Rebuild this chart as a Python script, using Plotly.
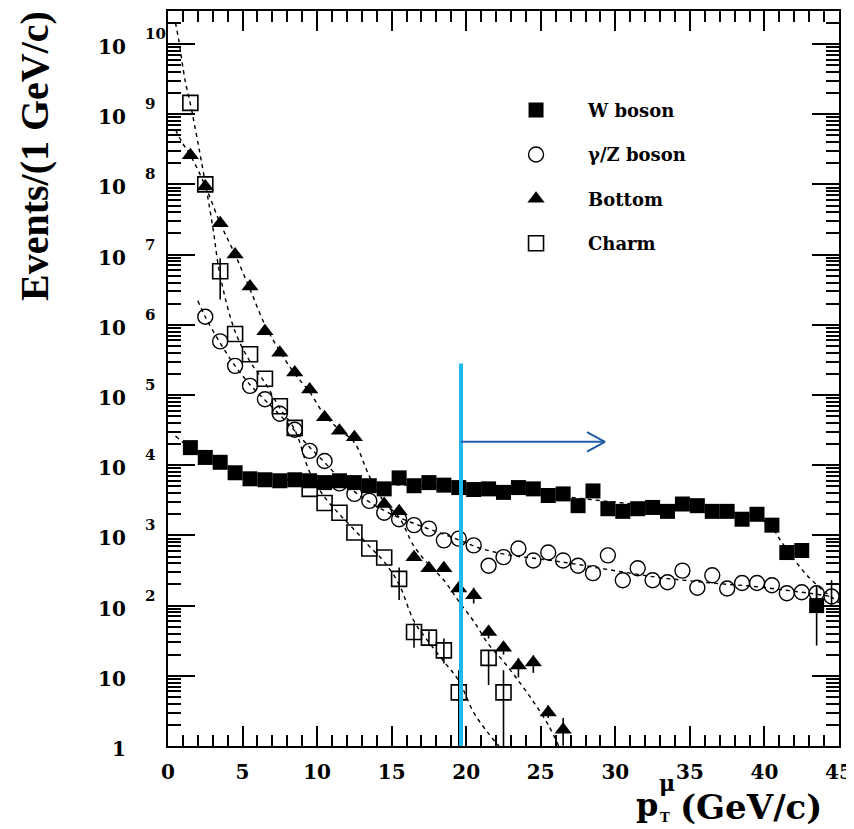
import plotly.graph_objects as go

# ---------------- data ----------------
w_x = [1.5, 2.5, 3.5, 4.5, 5.5, 6.5, 7.5, 8.5, 9.5, 10.5, 11.5, 12.5, 13.5, 14.5,
       15.5, 16.5, 17.5, 18.5, 19.5, 20.5, 21.5, 22.5, 23.5, 24.5, 25.5, 26.5, 27.5,
       28.5, 29.5, 30.5, 31.5, 32.5, 33.5, 34.5, 35.5, 36.5, 37.5, 38.5, 39.5, 40.5,
       41.5, 42.5, 43.5]
w_y = [1.78e4, 1.29e4, 1.1e4, 7.8e3, 6.4e3, 6.2e3, 6.0e3, 6.2e3, 6.0e3, 5.65e3, 6.0e3,
       5.65e3, 5.1e3, 4.6e3, 6.6e3, 5.1e3, 5.65e3, 5.2e3, 4.8e3, 4.5e3, 4.6e3, 4.1e3,
       4.8e3, 4.6e3, 3.7e3, 3.9e3, 2.65e3, 4.3e3, 2.4e3, 2.2e3, 2.4e3, 2.5e3, 2.2e3,
       2.8e3, 2.65e3, 2.2e3, 2.2e3, 1.7e3, 2.0e3, 1.4e3, 570, 610, 100]
w_err_hi = [0] * 42 + [70]
w_err_lo = [0] * 42 + [73]

gz_x = [2.5, 3.5, 4.5, 5.5, 6.5, 7.5, 8.5, 9.5, 10.5, 11.5, 12.5, 13.5, 14.5, 15.5,
        16.5, 17.5, 18.5, 19.5, 20.5, 21.5, 22.5, 23.5, 24.5, 25.5, 26.5, 27.5, 28.5,
        29.5, 30.5, 31.5, 32.5, 33.5, 34.5, 35.5, 36.5, 37.5, 38.5, 39.5, 40.5, 41.5,
        42.5, 43.5, 44.5]
gz_y = [1.3e6, 5.8e5, 2.6e5, 1.35e5, 8.7e4, 5.4e4, 3.2e4, 1.6e4, 1.15e4, 5.5e3, 3.9e3,
        3.1e3, 2.1e3, 1.7e3, 1.4e3, 1.25e3, 850, 900, 720, 370, 490, 650, 440, 570, 440,
        370, 290, 520, 230, 340, 230, 215, 315, 180, 270, 175, 210, 210, 195, 150, 155,
        150, 135]
gz_err_hi = [0] * 41 + [40, 95]
gz_err_lo = [0] * 41 + [30, 35]

b_x = [1.5, 2.5, 3.5, 4.5, 5.5, 6.5, 7.5, 8.5, 9.5, 10.5, 11.5, 12.5,
       14.5, 15.5, 16.5, 17.5, 18.5, 19.5, 20.5, 21.5, 22.5, 23.5, 24.5, 25.5, 26.5]
b_y = [2.6e8, 9.3e7, 2.8e7, 1.0e7, 3.5e6, 8.1e5, 4.0e5, 2.1e5, 1.2e5, 4.8e4, 3.1e4, 2.5e4,
       2.8e3, 2.2e3, 490, 340, 340, 175, 140, 42, 25, 14, 15.5, 3.0, 1.7]
b_err_hi = [0] * 18 + [40, 8, 5, 4, 4, 0.8, 0.8]
b_err_lo = [0] * 18 + [33, 8, 5, 4.5, 4.5, 0.5, 0.69]

c_x = [1.5, 2.5, 3.5, 4.5, 5.5, 6.5, 7.5, 8.5, 9.5, 10.5, 11.5, 12.5, 13.5, 14.5,
       15.5, 16.5, 17.5, 18.5, 19.5, 21.5, 22.5]
c_y = [1.45e9, 1.0e8, 5.8e6, 7.4e5, 3.8e5, 1.7e5, 6.9e4, 3.4e4, 4.6e3, 2.9e3, 2.1e3,
       1.1e3, 650, 485, 240, 42, 35, 23, 5.8, 18, 5.8]
c_err_hi = [0, 0, 3.1e6, 0, 0, 0, 0, 0, 0, 0, 0, 0, 0, 0, 110, 14, 8, 11, 6.2, 5, 6.2]
c_err_lo = [0, 0, 3.5e6, 0, 0, 0, 0, 0, 0, 0, 0, 0, 0, 0, 120, 17, 8, 8, 5.79, 10.6, 5.79]

# dashed fit curves
wfit_x = [0.5, 1.5, 2.5, 3.5, 4.5, 5.5, 7, 10, 13, 16, 20, 24, 28, 32, 36, 38, 39.5,
          40.5, 41, 42, 43, 44, 45]
wfit_y = [2.6e4, 1.75e4, 1.3e4, 1.05e4, 8.2e3, 7.0e3, 6.3e3, 5.9e3, 5.5e3, 5.2e3, 4.7e3,
          4.1e3, 3.3e3, 2.7e3, 2.3e3, 2.1e3, 1.8e3, 1.3e3, 900, 450, 250, 160, 110]
gzfit_x = [2.0, 2.5, 3.5, 4.5, 5.5, 6.5, 7.5, 8.5, 9.5, 10.5, 11.5, 12.5, 13.5, 15, 17,
           19, 21, 23, 25, 27, 29, 31, 33, 35, 37, 39, 41, 43, 44.5]
gzfit_y = [2.2e6, 1.3e6, 5.5e5, 2.6e5, 1.4e5, 8.5e4, 5.2e4, 3.1e4, 1.8e4, 1.1e4, 6.5e3,
           4.2e3, 3.0e3, 2.0e3, 1.35e3, 950, 650, 520, 460, 400, 340, 290, 250, 225, 205,
           190, 170, 150, 135]
bfit_x = [0.5, 1.0, 1.5, 2.5, 3.5, 4.5, 5.5, 6.5, 7.5, 8.5, 9.5, 10.5, 11.5, 12.5, 13.5,
          14.5, 15.5, 16.5, 17.5, 18.5, 19.5, 20.5, 21.5, 22.5, 23.5, 24.5, 25.5, 26.2]
bfit_y = [6e8, 3.8e8, 2.6e8, 9.5e7, 2.8e7, 1e7, 3.2e6, 1e6, 4.2e5, 2e5, 1.1e5, 5.2e4,
          3.2e4, 2.1e4, 7e3, 3e3, 1.8e3, 700, 380, 230, 115, 60, 28, 16, 8.5, 4.3, 2.0, 1.0]
cfit_x = [0.5, 0.7, 1.15, 1.5, 2.0, 2.5, 3.0, 3.5, 4.5, 5.5, 6.5, 7.5, 8.5, 9.5, 10.5,
          11.5, 12.5, 13.5, 14.5, 15.5, 16.5, 17.5, 18.5, 19.5, 20.5, 21.5, 22.2]
cfit_y = [2e10, 1.2e10, 3e9, 1.4e9, 4e8, 1.05e8, 2.5e7, 5e6, 8e5, 3e5, 1.5e5, 6.5e4,
          3.2e4, 8e3, 3.5e3, 2e3, 1.2e3, 700, 420, 200, 60, 30, 16, 8.5, 3.0, 1.5, 1.0]

# analysis cut and arrow
CUT_X = 19.65
CUT_TOP = 2.8e5
ARROW_Y = 2.15e4
ARROW_END = 29.3

x_ticks = [0, 5, 10, 15, 20, 25, 30, 35, 40, 45]
y_exponents = [0, 1, 2, 3, 4, 5, 6, 7, 8, 9, 10]

FONT = "DejaVu Serif"
TFONT = "Liberation Serif"

fig = go.Figure()

dash = "4px,4px"
for fx, fy in [(cfit_x, cfit_y), (bfit_x, bfit_y), (gzfit_x, gzfit_y), (wfit_x, wfit_y)]:
    fig.add_trace(go.Scatter(x=fx, y=fy, mode="lines", showlegend=False,
                             line=dict(color="black", width=1.4, dash=dash, shape="spline"),
                             hoverinfo="skip"))

def err(hi, lo):
    return dict(type="data", symmetric=False, array=hi, arrayminus=lo,
                color="black", thickness=1.6, width=0)

fig.add_trace(go.Scatter(x=c_x, y=c_y, mode="markers", name="Charm", legendrank=4,
                         legendgroup="c",
                         marker=dict(symbol="square-open", size=15, color="black",
                                     line=dict(width=1.6, color="black")),
                         error_y=err(c_err_hi, c_err_lo)))
fig.add_trace(go.Scatter(x=gz_x, y=gz_y, mode="markers", name="γ/Z boson", legendrank=2,
                         legendgroup="g",
                         marker=dict(symbol="circle-open", size=15, color="black",
                                     line=dict(width=1.4, color="black")),
                         error_y=err(gz_err_hi, gz_err_lo)))
fig.add_trace(go.Scatter(x=b_x, y=b_y, mode="markers", name="Bottom", legendrank=3,
                         legendgroup="b",
                         marker=dict(symbol="triangle-up", size=15, color="black"),
                         error_y=err(b_err_hi, b_err_lo)))
fig.add_trace(go.Scatter(x=w_x, y=w_y, mode="markers", name="W boson", legendrank=1,
                         legendgroup="w",
                         marker=dict(symbol="square", size=15, color="black"),
                         error_y=err(w_err_hi, w_err_lo)))

# cut line
fig.add_trace(go.Scatter(x=[CUT_X, CUT_X], y=[1, CUT_TOP], mode="lines", showlegend=False,
                         line=dict(color="#1fb8ee", width=4), hoverinfo="skip"))
# arrow
arm_dx = 1.2
arm_dy = 10 ** 0.14
fig.add_trace(go.Scatter(
    x=[CUT_X, ARROW_END, None, ARROW_END - arm_dx, ARROW_END, ARROW_END - arm_dx],
    y=[ARROW_Y, ARROW_Y, None, ARROW_Y * arm_dy, ARROW_Y, ARROW_Y / arm_dy],
    mode="lines", showlegend=False, line=dict(color="#1f5ca6", width=2),
    hoverinfo="skip"))

ann = []
for n in y_exponents:
    base = "1" if n == 0 else "10"
    ann.append(dict(xref="paper", yref="y", x=0, y=n, xanchor="right", yanchor="middle",
                    xshift=-40, yshift=-3, text=base, showarrow=False,
                    font=dict(family=FONT, size=20, color="black", weight="bold")))
    if n >= 2:
        ann.append(dict(xref="paper", yref="y", x=0, y=n, xanchor="left", yanchor="middle",
                        xshift=-25, yshift=10, text=str(n), showarrow=False,
                        font=dict(family=FONT, size=15, color="black", weight="bold")))

# axis titles
ann.append(dict(xref="paper", yref="paper", x=0, y=0.5, xanchor="center", yanchor="middle",
                xshift=-134, yshift=(746 - 155) - (746 - 9) / 2,
                text="Events/(1 GeV/c)", textangle=-90, showarrow=False,
                font=dict(family=TFONT, size=40, color="black", weight="bold")))
ann.append(dict(xref="paper", yref="paper", x=1, y=0, xanchor="center", yanchor="middle",
                xshift=-88, yshift=-61, text="(GeV/c)", showarrow=False,
                font=dict(family=FONT, size=34, color="black", weight="bold")))
ann.append(dict(xref="paper", yref="paper", x=1, y=0, xanchor="center", yanchor="middle",
                xshift=-192, yshift=-59, text="p", showarrow=False,
                font=dict(family=FONT, size=32, color="black", weight="bold")))
ann.append(dict(xref="paper", yref="paper", x=1, y=0, xanchor="center", yanchor="middle",
                xshift=-172, yshift=-37, text="μ", showarrow=False,
                font=dict(family=FONT, size=22, color="black", weight="bold")))
ann.append(dict(xref="paper", yref="paper", x=1, y=0, xanchor="center", yanchor="middle",
                xshift=-174, yshift=-71, text="T", showarrow=False,
                font=dict(family=FONT, size=13, color="black", weight="bold")))

# the page body has an 8px margin: the figure is sized and offset to compensate
fig.update_layout(
    width=846, height=821,
    margin=dict(l=160, r=14, t=1, b=83),
    paper_bgcolor="white", plot_bgcolor="white",
    showlegend=True,
    legend=dict(x=0.471, y=0.89, xanchor="left", yanchor="top",
                bgcolor="rgba(0,0,0,0)", borderwidth=0, tracegroupgap=18,
                itemwidth=94,
                font=dict(family=FONT, size=18, color="black", weight="bold")),
    annotations=ann,
)
fig.update_xaxes(range=[0, 45], tickmode="array", tickvals=x_ticks,
                 ticktext=[str(v) for v in x_ticks],
                 ticks="inside", ticklen=20, tickwidth=1.5, tickcolor="black",
                 minor=dict(dtick=1, tick0=0, ticks="inside", ticklen=11, tickwidth=1.5,
                            tickcolor="black", showgrid=False),
                 showline=True, linewidth=2, linecolor="black", mirror="allticks",
                 showgrid=False, zeroline=False, ticklabelstandoff=7,
                 tickfont=dict(family=FONT, size=20, color="black", weight="bold"))
fig.update_yaxes(type="log", range=[0, 10.47], tickmode="array",
                 tickvals=[10 ** n for n in y_exponents], showticklabels=False,
                 ticks="inside", ticklen=27, tickwidth=1.5, tickcolor="black",
                 minor=dict(dtick="D1", ticks="inside", ticklen=13, tickwidth=1.5,
                            tickcolor="black", showgrid=False),
                 showline=True, linewidth=2, linecolor="black", mirror="allticks",
                 showgrid=False, zeroline=False)

fig.write_html("out.html")
